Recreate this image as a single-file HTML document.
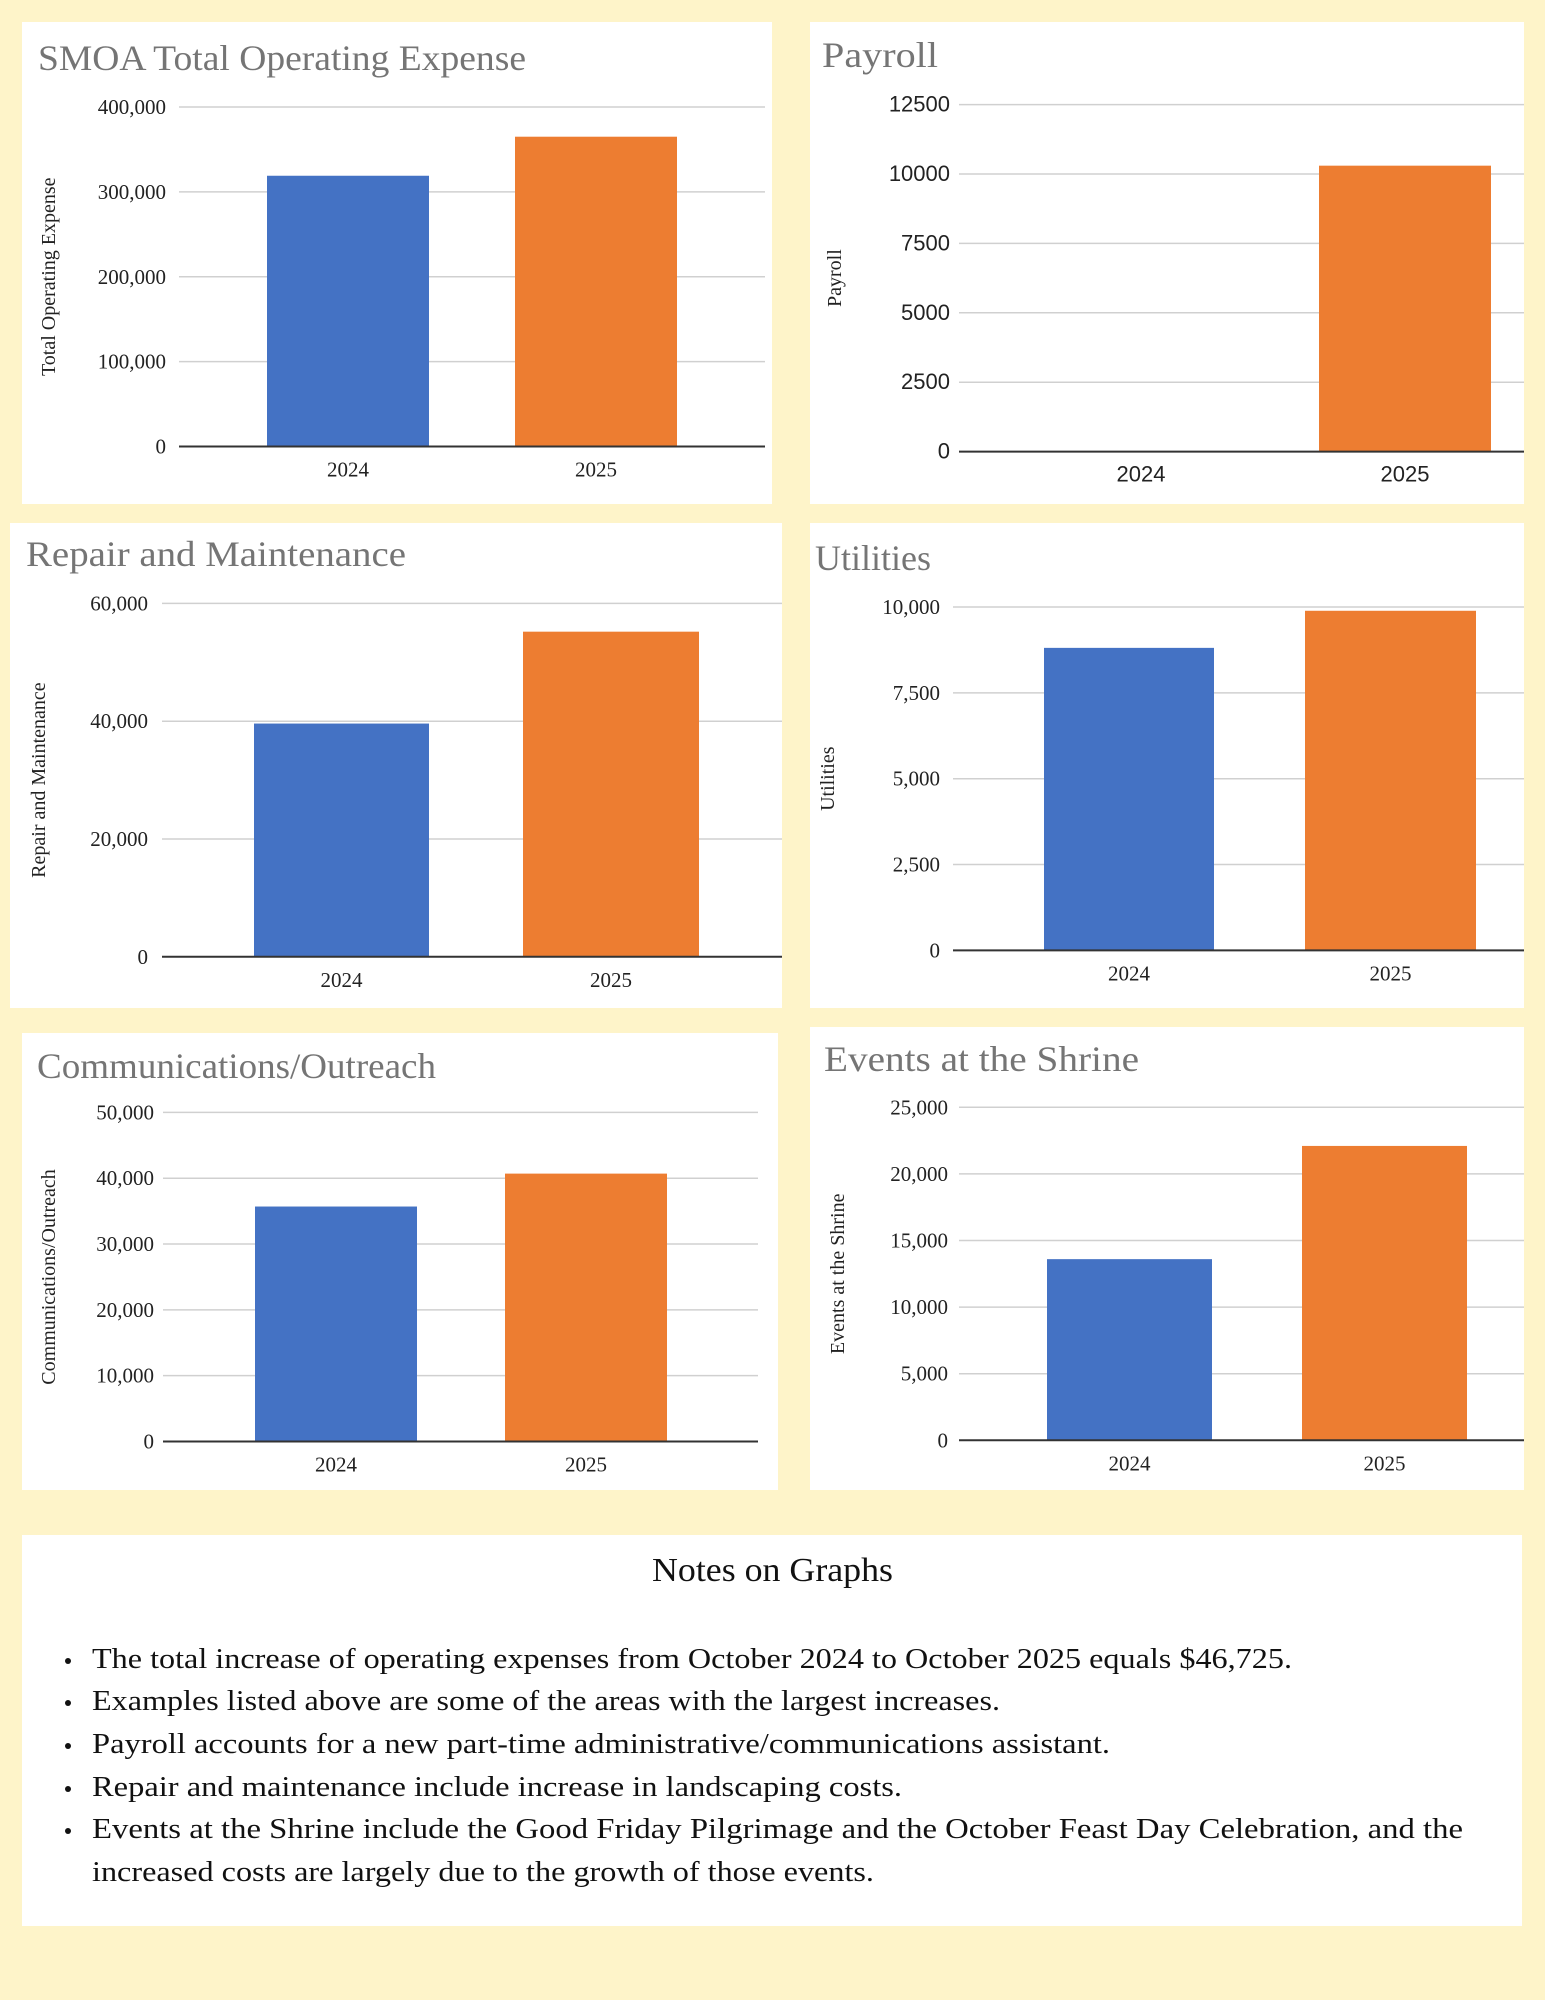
<!DOCTYPE html>
<html><head><meta charset="utf-8"><style>
body{margin:0;background:#fef4c9;}
svg{display:block}
</style></head><body>
<svg id="page" width="1545" height="2000" xmlns="http://www.w3.org/2000/svg">
<rect x="0" y="0" width="1545" height="2000" fill="#fef4c9"/>
<g id="charts"></g>
<g>
<rect x="22" y="1535" width="1500" height="391" fill="#fff"/>
<text x="652" y="1581" textLength="241" lengthAdjust="spacingAndGlyphs" font-family="Liberation Serif, serif" font-size="34" fill="#111">Notes on Graphs</text>
<g font-family="Liberation Serif, serif" font-size="29" fill="#111">
<text x="92" y="1668" textLength="1200" lengthAdjust="spacingAndGlyphs">The total increase of operating expenses from October 2024 to October 2025 equals $46,725.</text>
<text x="92" y="1710" textLength="908" lengthAdjust="spacingAndGlyphs">Examples listed above are some of the areas with the largest increases.</text>
<text x="92" y="1753" textLength="1018" lengthAdjust="spacingAndGlyphs">Payroll accounts for a new part-time administrative/communications assistant.</text>
<text x="92" y="1796" textLength="810" lengthAdjust="spacingAndGlyphs">Repair and maintenance include increase in landscaping costs.</text>
<text x="92" y="1838" textLength="1371" lengthAdjust="spacingAndGlyphs">Events at the Shrine include the Good Friday Pilgrimage and the October Feast Day Celebration, and the</text>
<text x="92" y="1881" textLength="782" lengthAdjust="spacingAndGlyphs">increased costs are largely due to the growth of those events.</text>
<circle cx="68" cy="1661" r="3"/><circle cx="68" cy="1703" r="3"/><circle cx="68" cy="1746" r="3"/><circle cx="68" cy="1789" r="3"/><circle cx="68" cy="1831" r="3"/>
</g>
</g>
</svg>
<script>
const categories = ["2024", "2025"];
const totalValues = [319000, 365000];
const totalTicks = [0, 100000, 200000, 300000, 400000];
const payrollValues = [0, 10300];
const payrollTicks = [0, 2500, 5000, 7500, 10000, 12500];
const repairValues = [39600, 55200];
const repairTicks = [0, 20000, 40000, 60000];
const utilitiesValues = [8810, 9890];
const utilitiesTicks = [0, 2500, 5000, 7500, 10000];
const commValues = [35700, 40700];
const commTicks = [0, 10000, 20000, 30000, 40000, 50000];
const eventsValues = [13600, 22100];
const eventsTicks = [0, 5000, 10000, 15000, 20000, 25000];

const NS = "http://www.w3.org/2000/svg";
const root = document.getElementById('charts');
function mk(tag, attrs, parent){const e=document.createElementNS(NS,tag);for(const k in attrs)e.setAttribute(k,attrs[k]);(parent||root).appendChild(e);return e;}
const colors=["#4472c4","#ed7d31"];

const charts=[
 {name:'total-expense',title:'SMOA Total Operating Expense',tw:488,ytitle:'Total Operating Expense',values:totalValues,ticks:totalTicks,panel:[22,22,750,482],titleX:38,titleY:70,plot:[179,765,107,446.5],bars:[[267,429],[515,677]],tickR:166,axX:48,sans:false,comma:true},
 {name:'payroll',title:'Payroll',tw:116,ytitle:'Payroll',values:payrollValues,ticks:payrollTicks,panel:[810,22,714,482],titleX:822,titleY:67,plot:[959,1524,104.6,451.6],bars:[[1055,1227],[1319,1491]],tickR:950,axX:834,sans:true,comma:false},
 {name:'repair',title:'Repair and Maintenance',tw:380,ytitle:'Repair and Maintenance',values:repairValues,ticks:repairTicks,panel:[10,523,772,485],titleX:26,titleY:566,plot:[162,782,603.4,956.8],bars:[[254,429],[523,699]],tickR:148,axX:38,sans:false,comma:true},
 {name:'utilities',title:'Utilities',tw:0,ytitle:'Utilities',values:utilitiesValues,ticks:utilitiesTicks,panel:[810,523,714,485],titleX:815,titleY:570,plot:[953,1524,607,950.4],bars:[[1044,1214],[1305,1476]],tickR:940,axX:827,sans:false,comma:true},
 {name:'communications',title:'Communications/Outreach',tw:399,ytitle:'Communications/Outreach',values:commValues,ticks:commTicks,panel:[22,1033,756,457],titleX:37,titleY:1078,plot:[163,758,1112.4,1441.5],bars:[[255,417],[505,667]],tickR:154,axX:48,sans:false,comma:true},
 {name:'events',title:'Events at the Shrine',tw:315,ytitle:'Events at the Shrine',values:eventsValues,ticks:eventsTicks,panel:[810,1027,714,463],titleX:824,titleY:1071,plot:[959,1524,1107.3,1440.3],bars:[[1047,1212],[1302,1467]],tickR:948,axX:837,sans:false,comma:true}
];
charts.forEach(c=>{
  const g=mk('g',{});
  
  
  const [px,py,pw,ph]=c.panel;
  mk('rect',{x:px,y:py,width:pw,height:ph,fill:'#fff'},g);
  const tAttrs={x:c.titleX,y:c.titleY,'font-family':'Liberation Serif, serif','font-size':36,fill:'#757575'};
  if(c.tw>0){tAttrs.textLength=c.tw;tAttrs.lengthAdjust='spacingAndGlyphs';}
  const t=mk('text',tAttrs,g);
  t.textContent=c.title;
  
  
  const [x0,x1,yTop,yBot]=c.plot;
  const maxT=c.ticks[c.ticks.length-1];
  const y=v=>yBot-(v/maxT)*(yBot-yTop);
  const font=c.sans?'Liberation Sans, sans-serif':'Liberation Serif, serif';
  c.ticks.forEach(tv=>{
    if(tv>0){const l=mk('line',{x1:x0,x2:x1,y1:y(tv),y2:y(tv),stroke:'#d0d0d0','stroke-width':1.5},g);
      
      }
    const lb=mk('text',{x:c.tickR,y:y(tv)+7,'text-anchor':'end','font-family':font,'font-size':c.sans?22:21,fill:'#222'},g);
    lb.textContent=c.comma?tv.toLocaleString('en-US'):String(tv);
    
    
  });
  c.values.forEach((v,i)=>{
    const [bx0,bx1]=c.bars[i];
    const r=mk('rect',{x:bx0,y:y(v),width:bx1-bx0,height:yBot-y(v),fill:colors[i]},g);
    
    
    const xl=mk('text',{x:(bx0+bx1)/2,y:yBot+30,'text-anchor':'middle','font-family':font,'font-size':c.sans?22:21,fill:'#222'},g);
    xl.textContent=categories[i];
    
    
  });
  const ax=mk('line',{x1:x0,x2:x1,y1:yBot,y2:yBot,stroke:'#333','stroke-width':2},g);
  
  
  const cy=(yTop+yBot)/2;
  const at=mk('text',{x:c.axX,y:cy,'text-anchor':'middle','font-family':'Liberation Serif, serif','font-size':20,fill:'#222',transform:`rotate(-90 ${c.axX} ${cy}) translate(0 7)`},g);
  at.textContent=c.ytitle;
  
  
});
</script>
</body></html>
